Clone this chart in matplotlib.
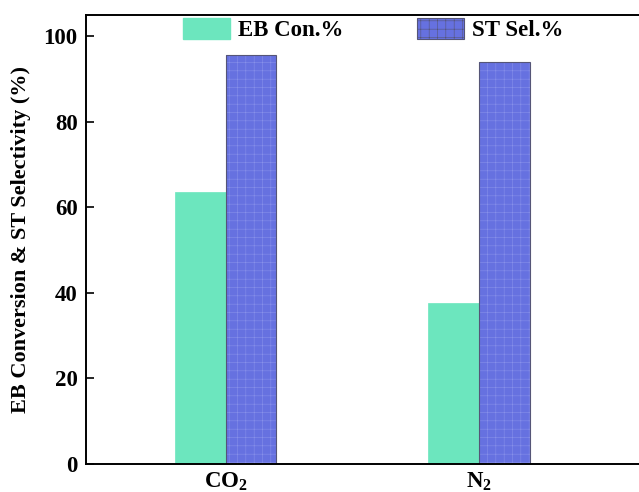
import matplotlib
matplotlib.use("Agg")
import matplotlib.pyplot as plt
import numpy as np
from matplotlib.patches import Patch

categories = ["CO$_2$", "N$_2$"]
eb_conversion = [63.5, 37.7]
st_selectivity = [95.6, 94.1]
series_labels = ["EB Con.%", "ST Sel.%"]
yticks = [0, 20, 40, 60, 80, 100]

plt.rcParams['font.family'] = ['Liberation Serif', 'DejaVu Serif']
plt.rcParams['font.weight'] = 'bold'
plt.rcParams['mathtext.fontset'] = 'custom'
plt.rcParams['mathtext.rm'] = 'Liberation Serif:bold'
plt.rcParams['mathtext.it'] = 'Liberation Serif:bold'
plt.rcParams['mathtext.bf'] = 'Liberation Serif:bold'
plt.rcParams['hatch.linewidth'] = 0.4

fig = plt.figure(figsize=(6.39, 4.92), dpi=100)
ax = fig.add_axes([86/639, 28/492, 1 - 86/639, 449/492])

x = np.arange(len(categories))
w = 0.2
green = '#6CE6BE'
blue = '#6671E0'

ax.bar(x - w/2, eb_conversion, w, color=green, edgecolor=green, linewidth=0.5)
ax.bar(x + w/2, st_selectivity, w, color=blue, edgecolor='#8790EA', hatch='++', linewidth=0)
ax.bar(x + w/2, st_selectivity, w, color='none', edgecolor='#555577', linewidth=0.8)

ax.set_xlim(-0.55, 1.63)
ax.set_ylim(0, 105)
ax.set_xticks(x)
ax.set_xticklabels(categories, fontsize=16.5, fontweight='bold')
ax.set_yticks(yticks)
ax.set_yticklabels([str(v) for v in yticks], fontsize=16.5, fontweight='bold')
ax.tick_params(axis='y', direction='in', length=6, width=1.2, pad=6)
ax.tick_params(axis='x', length=0, pad=5)
ax.set_ylabel("EB Conversion & ST Selectivity (%)", fontsize=16, fontweight='bold', labelpad=9)

for s in ['left', 'bottom', 'top']:
    ax.spines[s].set_linewidth(1.4)
ax.spines['right'].set_visible(False)

handles = [Patch(facecolor=green, edgecolor=green),
           Patch(facecolor=blue, edgecolor='#555577', hatch='++', linewidth=0.8)]
leg = ax.legend(handles, series_labels, ncol=2, frameon=False, loc='upper left',
                bbox_to_anchor=(183/639, 1 - 18/492), bbox_transform=fig.transFigure,
                prop={'family': 'Liberation Serif', 'weight': 'bold', 'size': 16.5},
                handlelength=2.05, handleheight=1.0, handletextpad=0.35,
                columnspacing=3.2, borderpad=0, borderaxespad=0)

fig.savefig("out.png", dpi=100)
